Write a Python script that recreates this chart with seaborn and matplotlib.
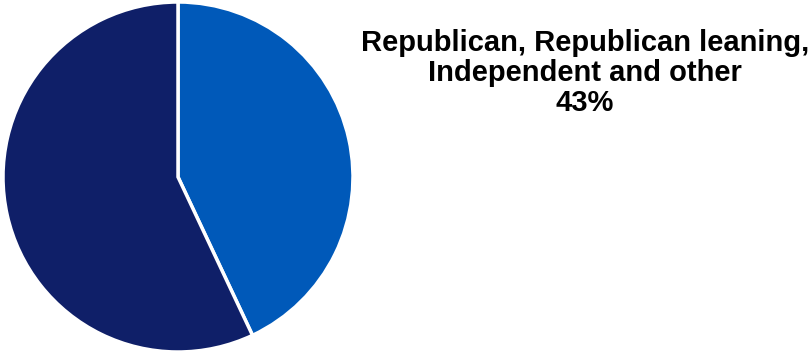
import matplotlib
matplotlib.use("Agg")
import matplotlib.pyplot as plt
import seaborn as sns

categories = ["Republican, Republican leaning,\nIndependent and other", "Democrat, Democratic leaning"]
values = [43, 57]
colors = ["#0059B9", "#0F1F68"]

sns.set_theme(style="white")
plt.rcParams['font.family'] = ['Liberation Sans', 'DejaVu Sans']

fig = plt.figure(figsize=(8.11, 3.51), dpi=100)
ax = fig.add_axes([3/811, (351-352)/351, 350/811, 350/351])
wedges, _ = ax.pie(values, colors=colors, startangle=90, counterclock=False,
                   wedgeprops=dict(edgecolor="white", linewidth=2.5))
ax.set_xlim(-1, 1)
ax.set_ylim(-1, 1)
ax.set_aspect("equal")
ax.axis("off")

fig.text(585/811, 1 - 73/351, f"{categories[0]}\n{values[0]}%", ha="center", va="center",
         fontsize=21, fontweight="bold", color="black", linespacing=1.1)

fig.savefig("out.png", dpi=100)
